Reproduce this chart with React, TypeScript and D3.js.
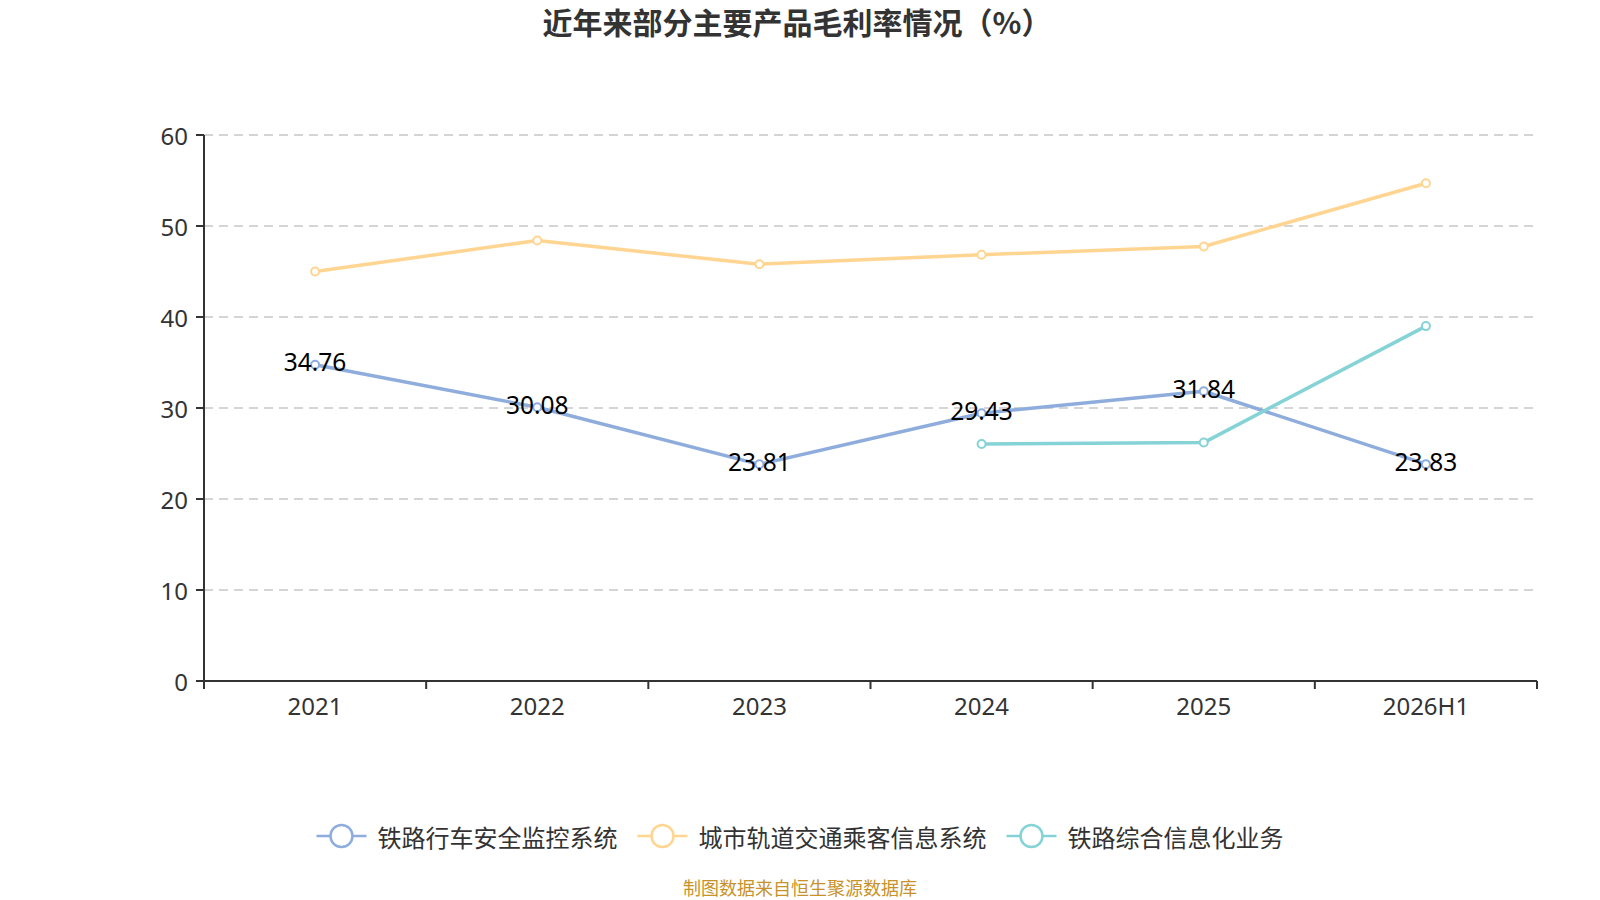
import React from "react";
import * as d3 from "d3";

const categories = ["2021", "2022", "2023", "2024", "2025", "2026H1"];
const seriesNames = ["铁路行车安全监控系统", "城市轨道交通乘客信息系统", "铁路综合信息化业务"];
const railSafety: (number | null)[] = [34.76, 30.08, 23.81, 29.43, 31.84, 23.83];
const urbanPIS: (number | null)[] = [45.0, 48.4, 45.8, 46.85, 47.75, 54.7];
const railInfo: (number | null)[] = [null, null, null, 26.05, 26.2, 39.0];
const yTicks = [0, 10, 20, 30, 40, 50, 60];
const colors = ["#8eaddc", "#ffd591", "#85d3d6"];
const title = "近年来部分主要产品毛利率情况（%）";
const source = "制图数据来自恒生聚源数据库";

const W = 1600;
const H = 900;
const left = 204;
const right = 1537;
const top = 135;
const bottom = 681;

const numFont = "'Noto Sans', 'Noto Sans CJK SC', sans-serif";
const cjkFont = "'Noto Sans CJK SC', 'Noto Sans', sans-serif";

export default function App() {
  const x = d3.scaleBand<string>().domain(categories).range([left, right]);
  const y = d3.scaleLinear().domain([0, 60]).range([bottom, top]);
  const cx = (c: string) => (x(c) as number) + x.bandwidth() / 2;

  const all = [railSafety, urbanPIS, railInfo];
  const line = d3
    .line<number | null>()
    .defined((d) => d != null)
    .x((_, i) => cx(categories[i]))
    .y((d) => y(d as number));

  const boundaries = d3.range(categories.length + 1).map((i) => left + i * x.bandwidth());

  // legend layout
  const legendFont = 24;
  const iconW = 50;
  const iconGap = 11;
  const itemGap = 20;
  const itemWidths = seriesNames.map((n) => iconW + iconGap + n.length * legendFont);
  const totalW = d3.sum(itemWidths) + itemGap * (seriesNames.length - 1);
  let lx = W / 2 - totalW / 2;
  const legendItems = seriesNames.map((n, i) => {
    const start = lx;
    lx += itemWidths[i] + itemGap;
    return { n, start, i };
  });
  const legendY = 836;

  return (
    <div style={{ position: "fixed", left: 0, top: 0, width: W, height: H, background: "#fff" }}>
      <svg width={W} height={H} style={{ display: "block" }}>
        <rect width={W} height={H} fill="#fff" />
        <text
          x={797}
          y={21}
          textAnchor="middle"
          dominantBaseline="central"
          fontFamily={cjkFont}
          fontWeight="bold"
          fontSize={30}
          fill="#333"
        >
          {title}
        </text>

        {/* grid */}
        {yTicks.filter((t) => t > 0).map((t) => (
          <line
            key={t}
            x1={left}
            x2={right}
            y1={y(t)}
            y2={y(t)}
            stroke="#c8c8c8"
            strokeWidth={1.5}
            strokeDasharray="9,6"
          />
        ))}

        {/* y axis */}
        <line x1={left} x2={left} y1={top} y2={bottom} stroke="#333" strokeWidth={2} />
        {yTicks.map((t) => (
          <g key={t}>
            <line x1={left - 8} x2={left} y1={y(t)} y2={y(t)} stroke="#333" strokeWidth={2} />
            <text
              x={left - 16}
              y={y(t)}
              textAnchor="end"
              dominantBaseline="central"
              fontFamily={numFont}
              fontSize={24}
              fill="#333"
            >
              {t}
            </text>
          </g>
        ))}

        {/* x axis */}
        <line x1={left} x2={right} y1={bottom} y2={bottom} stroke="#333" strokeWidth={2} />
        {boundaries.map((b, i) => (
          <line key={i} x1={b} x2={b} y1={bottom} y2={bottom + 8} stroke="#333" strokeWidth={2} />
        ))}
        {categories.map((c) => (
          <text
            key={c}
            x={cx(c)}
            y={705}
            textAnchor="middle"
            dominantBaseline="central"
            fontFamily={numFont}
            fontSize={24}
            fill="#333"
          >
            {c}
          </text>
        ))}

        {/* lines */}
        {all.map((s, si) => (
          <path key={si} d={line(s) || ""} fill="none" stroke={colors[si]} strokeWidth={3.5} strokeLinejoin="round" />
        ))}
        {all.map((s, si) =>
          s.map((v, i) =>
            v == null ? null : (
              <circle
                key={`${si}-${i}`}
                cx={cx(categories[i])}
                cy={y(v)}
                r={4}
                fill="#fff"
                stroke={colors[si]}
                strokeWidth={2}
              />
            )
          )
        )}

        {/* labels for first series */}
        {railSafety.map((v, i) =>
          v == null ? null : (
            <text
              key={i}
              x={cx(categories[i])}
              y={y(v) - 3}
              textAnchor="middle"
              dominantBaseline="central"
              fontFamily={numFont}
              fontSize={24.5}
              fill="#000"
            >
              {v.toFixed(2)}
            </text>
          )
        )}

        {/* legend */}
        {legendItems.map(({ n, start, i }) => (
          <g key={n}>
            <line x1={start} x2={start + iconW} y1={legendY} y2={legendY} stroke={colors[i]} strokeWidth={2.5} />
            <circle cx={start + iconW / 2} cy={legendY} r={11} fill="#fff" stroke={colors[i]} strokeWidth={2.5} />
            <text
              x={start + iconW + iconGap}
              y={legendY}
              dominantBaseline="central"
              fontFamily={cjkFont}
              fontSize={legendFont}
              fill="#333"
            >
              {n}
            </text>
          </g>
        ))}

        <text
          x={800}
          y={887}
          textAnchor="middle"
          dominantBaseline="central"
          fontFamily={cjkFont}
          fontSize={18}
          fill="#c8922a"
        >
          {source}
        </text>
      </svg>
    </div>
  );
}
